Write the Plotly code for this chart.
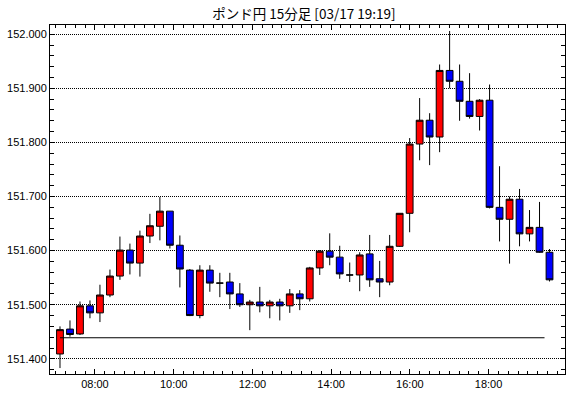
import plotly.graph_objects as go

opens = [151.409, 151.455, 151.446, 151.498, 151.485, 151.518, 151.553, 151.601, 151.577, 151.627,
         151.645, 151.673, 151.610, 151.564, 151.480, 151.564, 151.540, 151.542, 151.520, 151.500,
         151.505, 151.498, 151.505, 151.498, 151.520, 151.511, 151.568, 151.599, 151.588, 151.555,
         151.555, 151.594, 151.548, 151.542, 151.608, 151.669, 151.797, 151.841, 151.810, 151.933,
         151.913, 151.876, 151.848, 151.878, 151.680, 151.658, 151.695, 151.631, 151.643, 151.597]
closes = [151.454, 151.445, 151.498, 151.485, 151.518, 151.553, 151.601, 151.577, 151.627, 151.646,
          151.673, 151.610, 151.566, 151.480, 151.564, 151.540, 151.540, 151.520, 151.500, 151.505,
          151.498, 151.505, 151.498, 151.520, 151.511, 151.568, 151.599, 151.588, 151.557, 151.555,
          151.592, 151.546, 151.542, 151.608, 151.669, 151.797, 151.841, 151.810, 151.933, 151.913,
          151.876, 151.848, 151.878, 151.680, 151.658, 151.695, 151.631, 151.643, 151.597, 151.546]
highs = [151.460, 151.471, 151.506, 151.508, 151.537, 151.565, 151.626, 151.613, 151.637, 151.668,
         151.699, 151.673, 151.628, 151.566, 151.573, 151.573, 151.559, 151.559, 151.540, 151.509,
         151.533, 151.509, 151.511, 151.529, 151.527, 151.570, 151.601, 151.632, 151.609, 151.578,
         151.597, 151.629, 151.581, 151.629, 151.669, 151.808, 151.882, 151.854, 151.944, 152.006,
         151.944, 151.928, 151.880, 151.907, 151.756, 151.700, 151.714, 151.675, 151.690, 151.603]
lows = [151.383, 151.441, 151.444, 151.475, 151.468, 151.514, 151.546, 151.556, 151.552, 151.614,
        151.619, 151.604, 151.532, 151.479, 151.475, 151.524, 151.514, 151.492, 151.496, 151.453,
        151.486, 151.475, 151.471, 151.485, 151.490, 151.506, 151.555, 151.573, 151.548, 151.542,
        151.525, 151.533, 151.514, 151.536, 151.607, 151.634, 151.767, 151.758, 151.782, 151.900,
        151.840, 151.844, 151.822, 151.678, 151.617, 151.576, 151.608, 151.617, 151.596, 151.543]

ref_level = 151.439
hour_labels = ["08:00", "10:00", "12:00", "14:00", "16:00", "18:00"]
y_ticks = [151.4, 151.5, 151.6, 151.7, 151.8, 151.9, 152.0]

xs = list(range(len(opens)))
first_tick = 3.5
tick_step = 7.88
tick_pos = [first_tick + tick_step * i for i in range(len(hour_labels))]

fig = go.Figure()
fig.add_trace(go.Scatter(
    x=[xs[0], xs[-1] - 0.5], y=[ref_level, ref_level], mode="lines",
    line=dict(color="black", width=1), hoverinfo="skip", showlegend=False))
fig.add_trace(go.Candlestick(
    x=xs, open=opens, high=highs, low=lows, close=closes,
    increasing=dict(line=dict(color="black", width=1), fillcolor="#FF0000"),
    decreasing=dict(line=dict(color="black", width=1), fillcolor="#0000FF"),
    whiskerwidth=0, showlegend=False))

axis_font = dict(family="Liberation Sans, Arial, sans-serif", size=11, color="black")

fig.update_layout(
    width=570, height=398,
    margin=dict(l=50, r=5, t=25, b=24),
    paper_bgcolor="white", plot_bgcolor="white",
    boxgap=0.32, boxgroupgap=0,
    title=dict(text="ポンド円 15分足 [03/17 19:19]", x=0.493, xanchor="center",
               xref="paper", y=1 - 14 / 398, yref="container", yanchor="middle",
               font=dict(family="Noto Sans CJK JP", size=13.5, color="black")),
    xaxis=dict(range=[-1.0, 50.55], rangeslider=dict(visible=False), automargin=False,
               tickmode="array", tickvals=tick_pos, ticktext=hour_labels,
               ticks="inside", ticklen=5, tickcolor="black", tickwidth=1,
               minor=dict(ticks="inside", ticklen=3, tickcolor="black", tickwidth=1,
                          tickmode="linear", tick0=first_tick, dtick=tick_step / 8,
                          showgrid=False),
               showgrid=False, zeroline=False, showline=True, linecolor="black",
               linewidth=1, mirror="ticks", tickfont=axis_font),
    yaxis=dict(range=[151.372, 152.017], automargin=False,
               tickmode="array", tickvals=y_ticks,
               tickformat=".3f", ticks="inside", ticklen=5, tickcolor="black",
               minor=dict(ticks="inside", ticklen=4, tickcolor="black",
                          tickmode="linear", tick0=151.4, dtick=0.02, showgrid=False),
               showgrid=True, gridcolor="black", griddash="1px,1px", gridwidth=1,
               zeroline=False, showline=True, linecolor="black", linewidth=1,
               mirror="ticks", tickfont=axis_font),
)

fig.write_html("out.html", config={"displayModeBar": False},
               post_script="document.body.style.margin='0';")
